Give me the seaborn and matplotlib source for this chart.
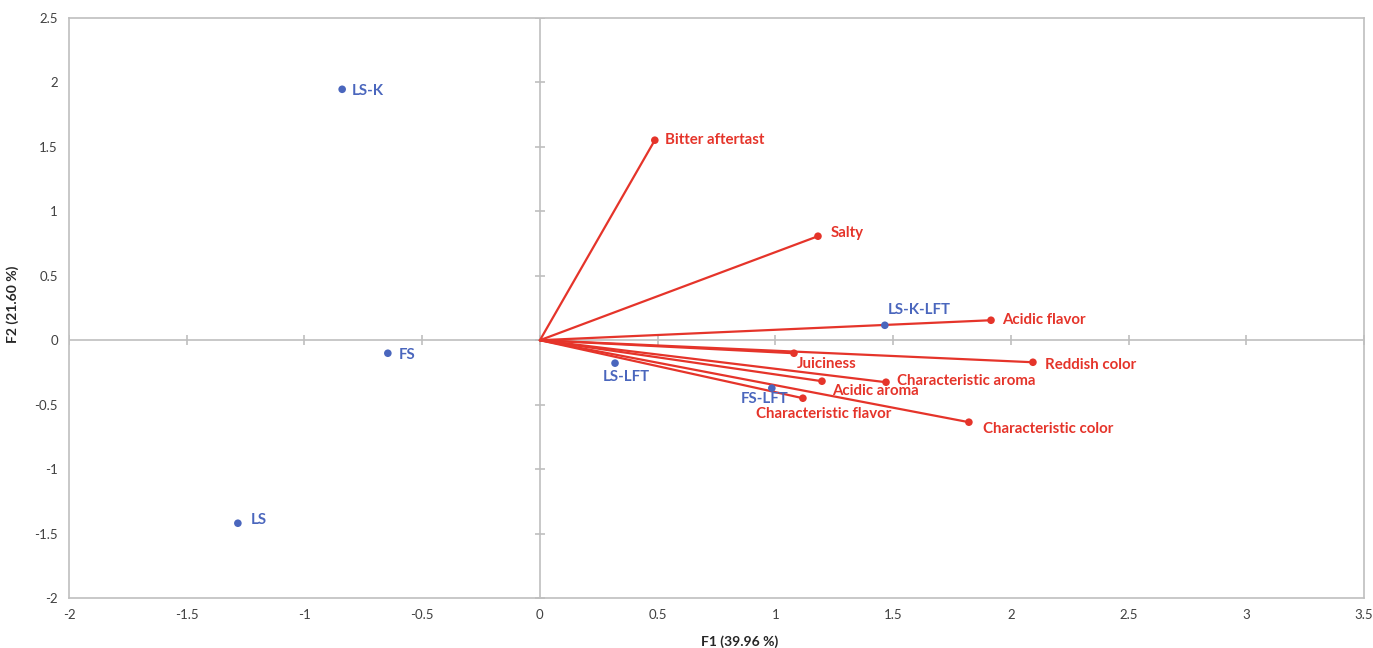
import numpy as np
import pandas as pd
import matplotlib.pyplot as plt
import seaborn as sns

sns.set_style("white")
plt.rcParams['font.family'] = ['Lato', 'DejaVu Sans']

# observations (blue)
obs_names = ["LS-K", "FS", "LS", "LS-LFT", "FS-LFT", "LS-K-LFT"]
obs_f1 = [-0.84, -0.646, -1.283, 0.319, 0.985, 1.465]
obs_f2 = [1.947, -0.101, -1.42, -0.178, -0.372, 0.116]

# variables (red)
var_names = ["Bitter aftertast", "Salty", "Acidic flavor", "Juiciness", "Reddish color",
             "Characteristic aroma", "Acidic aroma", "Characteristic flavor", "Characteristic color"]
var_f1 = [0.488, 1.181, 1.916, 1.079, 2.094, 1.47, 1.198, 1.117, 1.822]
var_f2 = [1.552, 0.807, 0.155, -0.101, -0.171, -0.326, -0.318, -0.45, -0.636]

blue = "#4A66BD"
red = "#E5342A"
grey = "#BFBFBF"

obs = pd.DataFrame({"name": obs_names, "F1": obs_f1, "F2": obs_f2})
var = pd.DataFrame({"name": var_names, "F1": var_f1, "F2": var_f2})

fig = plt.figure(figsize=(13.73, 6.48), dpi=100)
ax = fig.add_axes([0.0503, 0.0772, 0.9431, 0.895])

# zero axes with crossing ticks
ax.axhline(0, color=grey, lw=1.2, zorder=1)
ax.axvline(0, color=grey, lw=1.2, zorder=1)
xt = np.arange(-2, 3.51, 0.5)
yt = np.arange(-2, 2.51, 0.5)
ax.scatter(xt, np.zeros_like(xt), marker="|", s=60, color=grey, lw=1.2, zorder=1)
ax.scatter(np.zeros_like(yt), yt, marker="_", s=60, color=grey, lw=1.2, zorder=1)

# vectors
for _, r in var.iterrows():
    ax.plot([0, r.F1], [0, r.F2], color=red, lw=1.6, zorder=2)
sns.scatterplot(data=var, x="F1", y="F2", color=red, s=30, edgecolor="none", ax=ax, zorder=3)
sns.scatterplot(data=obs, x="F1", y="F2", color=blue, s=30, edgecolor="none", ax=ax, zorder=4)

# label offsets (points): (dx, dy, ha, va)
obs_off = {
    "LS-K": (7, -1, "left", "center"),
    "FS": (8, -1, "left", "center"),
    "LS": (9, 2, "left", "center"),
    "LS-LFT": (8, -5, "center", "top"),
    "FS-LFT": (-5, -3, "center", "top"),
    "LS-K-LFT": (25, 6, "center", "bottom"),
}
var_off = {
    "Bitter aftertast": (7, 0, "left", "center"),
    "Salty": (9, 2, "left", "center"),
    "Acidic flavor": (8, 0, "left", "center"),
    "Juiciness": (2, -3, "left", "top"),
    "Reddish color": (9, -2, "left", "center"),
    "Characteristic aroma": (8, 1, "left", "center"),
    "Acidic aroma": (7, -7, "left", "center"),
    "Characteristic flavor": (15, -6.5, "center", "top"),
    "Characteristic color": (10, -5, "left", "center"),
}
for _, r in obs.iterrows():
    dx, dy, ha, va = obs_off[r["name"]]
    ax.annotate(r["name"], (r.F1, r.F2), xytext=(dx, dy), textcoords="offset points",
                ha=ha, va=va, color=blue, fontsize=10.8, fontweight="bold", zorder=5)
for _, r in var.iterrows():
    dx, dy, ha, va = var_off[r["name"]]
    ax.annotate(r["name"], (r.F1, r.F2), xytext=(dx, dy), textcoords="offset points",
                ha=ha, va=va, color=red, fontsize=10.8, fontweight="bold", zorder=5)

ax.set_xlim(-2, 3.5)
ax.set_ylim(-2, 2.5)
ax.set_xticks(xt)
ax.set_yticks(yt)
ax.set_xticklabels([f"{v:g}" for v in xt])
ax.set_yticklabels([f"{v:g}" for v in yt])
ax.tick_params(length=0, labelsize=9.5, colors="#404040", pad=8)
for s in ax.spines.values():
    s.set_color(grey)
    s.set_linewidth(1.2)
ax.set_xlabel("F1 (39.96 %)", fontsize=10, fontweight="bold")
ax.set_ylabel("F2 (21.60 %)", fontsize=10, fontweight="bold")
ax.xaxis.set_label_coords(0.518, -0.065)
ax.yaxis.set_label_coords(-0.039, 0.507)

fig.savefig("out.png", dpi=100)
